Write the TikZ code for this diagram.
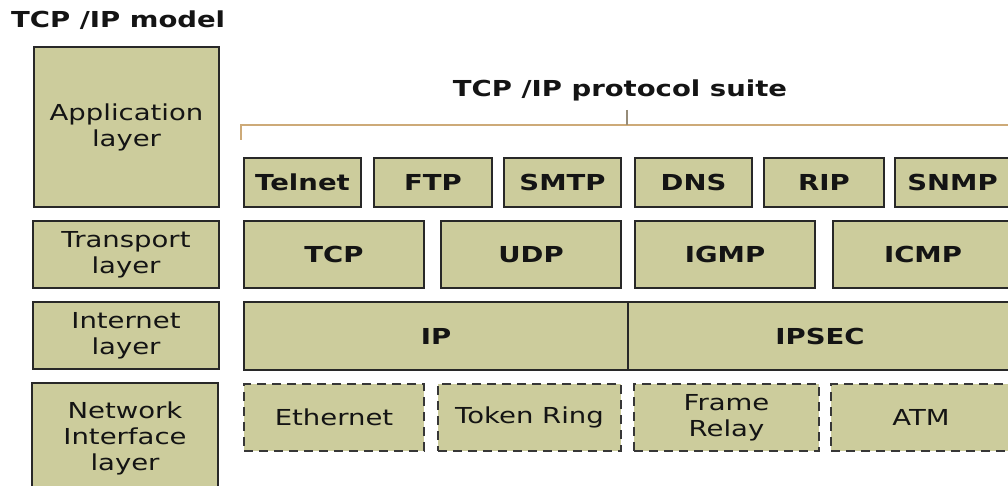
\documentclass[tikz,border=0pt]{standalone}
\usepackage{fontspec}
\setmainfont[FakeStretch=1.25]{DejaVu Sans}
\definecolor{boxfill}{RGB}{204,204,156}
\definecolor{boxline}{RGB}{40,40,40}
\definecolor{dashline}{RGB}{55,55,55}
\definecolor{bracketcol}{RGB}{205,170,120}
\definecolor{tickcol}{RGB}{150,140,120}
\definecolor{txt}{RGB}{20,20,20}
\tikzset{
  layerbox/.style={draw=boxline, fill=boxfill, line width=2pt, inner sep=0pt,
    anchor=north west, align=center, text=txt,
    font=\fontsize{22}{26}\selectfont},
  protobox/.style={draw=boxline, fill=boxfill, line width=2pt, inner sep=0pt,
    anchor=north west, text=txt, font=\fontsize{22}{26}\selectfont\bfseries},
  netbox/.style={draw=dashline, fill=boxfill, line width=2pt, inner sep=0pt,
    dash pattern=on 9pt off 6pt, anchor=north west, align=center, text=txt,
    font=\fontsize{22}{26}\selectfont},
  heading/.style={inner sep=0pt, text=txt, font=\fontsize{22}{26}\selectfont\bfseries},
  bracketline/.style={draw=bracketcol, line width=2pt},
}
\newcommand{\bx}[6]{\node[#1, minimum width=#4pt-#2pt, minimum height=#5pt-#3pt] (#6) at (#2,#3)}
\begin{document}
\begin{tikzpicture}[x=1pt,y=-1pt]
\useasboundingbox (0,0) rectangle (1008,486);
\clip (0,0) rectangle (1008,486);
% headings
\node[heading, anchor=base west] (model) at (11,28) {TCP /IP model};
\node[heading, anchor=base] (suite) at (620,97) {TCP /IP protocol suite};
% layer boxes
\bx{layerbox}{33}{46}{218}{206}{app} {Application\\layer};
\bx{layerbox}{32}{220}{218}{287}{trans} {Transport\\layer};
\bx{layerbox}{32}{301}{218}{368}{inet} {Internet\\layer};
\bx{layerbox}{31}{382}{217}{492}{netif} {Network\\Interface\\layer};
% application protocols
\bx{protobox}{243}{157}{360}{206}{telnet} {Telnet};
\bx{protobox}{373}{157}{491}{206}{ftp} {FTP};
\bx{protobox}{503}{157}{620}{206}{smtp} {SMTP};
\bx{protobox}{634}{157}{751}{206}{dns} {DNS};
\bx{protobox}{763}{157}{883}{206}{rip} {RIP};
\bx{protobox}{894}{157}{1009}{206}{snmp} {SNMP};
% transport
\bx{protobox}{243}{220}{423}{287}{tcp} {TCP};
\bx{protobox}{440}{220}{620}{287}{udp} {UDP};
\bx{protobox}{634}{220}{814}{287}{igmp} {IGMP};
\bx{protobox}{832}{220}{1012}{287}{icmp} {ICMP};
% internet
\bx{protobox}{243}{301}{627}{369}{ip} {IP};
\bx{protobox}{627}{301}{1011}{369}{ipsec} {IPSEC};
% network interface
\bx{netbox}{243}{383}{423}{450}{eth} {Ethernet};
\bx{netbox}{437}{383}{620}{450}{token} {Token Ring};
\bx{netbox}{633}{383}{818}{450}{frame} {Frame\\Relay};
\bx{netbox}{830}{383}{1010}{450}{atm} {ATM};
% bracket
\coordinate (bl) at (241,140);
\coordinate (blc) at (241,125);
\coordinate (br) at (1015,125);
\coordinate (bct) at (627,110);
\coordinate (bcb) at (627,125);
\draw[bracketline] (bl) -- (blc) -- (br);
\draw[draw=tickcol, line width=1.5pt] (bct) -- (bcb);
\end{tikzpicture}
\end{document}
